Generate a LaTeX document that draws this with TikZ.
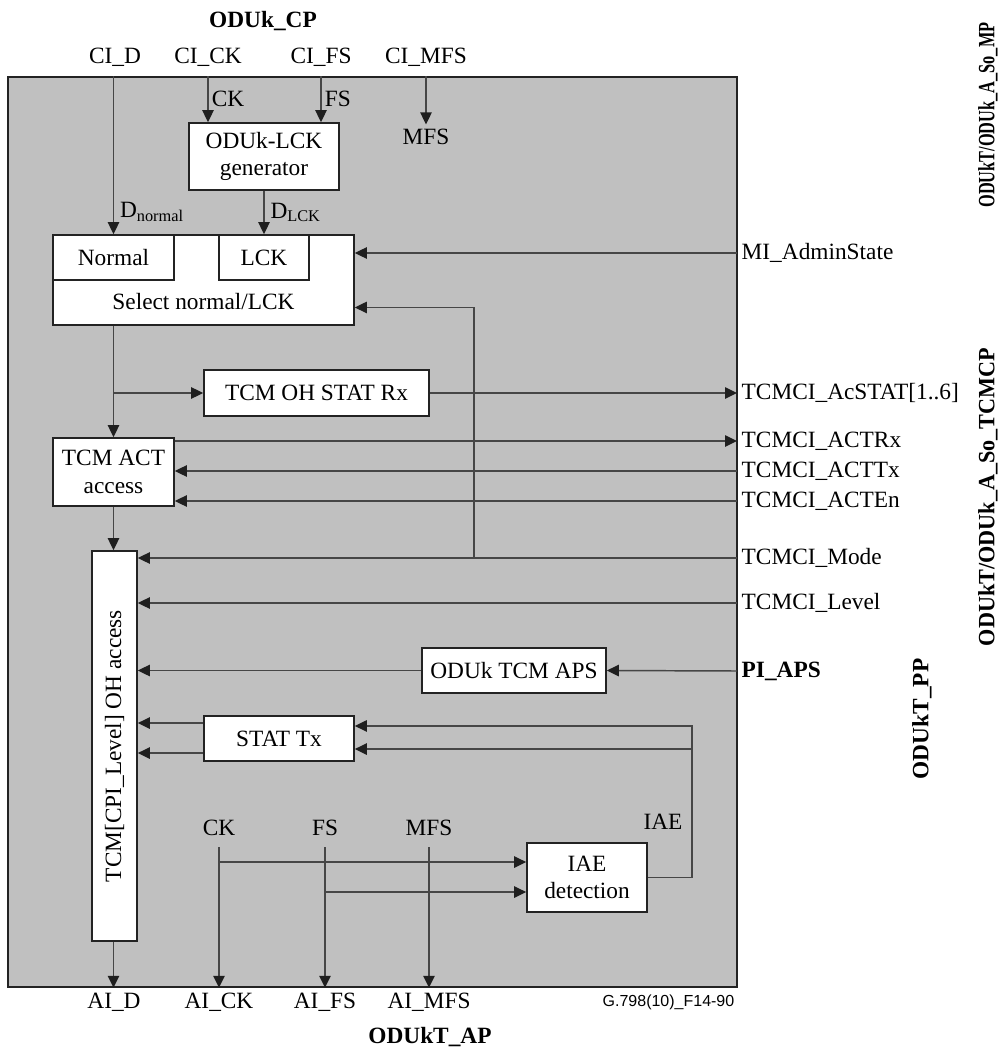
\documentclass[tikz,border=0pt]{standalone}
\usepackage{fontspec}
\setmainfont{Liberation Serif}
\newfontfamily\codefont{Liberation Sans}
\usetikzlibrary{arrows.meta, calc}

\definecolor{framegray}{RGB}{192,192,192}
\definecolor{wiregray}{RGB}{70,70,70}
\definecolor{boxline}{RGB}{35,35,35}
\newcommand{\lblfont}{\fontsize{17.5}{20.5}\selectfont}

\begin{document}
\begin{tikzpicture}[
    x=0.75pt,
    y=-0.75pt,
    >={Triangle[length=9pt,width=8.5pt,color=black!88]},
    font=\lblfont,
    wire/.style={wiregray, line width=1.1pt},
    flow/.style={wire, ->},
    block/.style={draw=boxline, line width=1.2pt, fill=white, inner sep=0pt, align=center},
    port/.style={anchor=west},
    iface/.style={font=\lblfont\bfseries},
    tag/.style={text=black}
]
    \useasboundingbox (0,0) rectangle (1001,1048);
    % function frame
    \node[draw=boxline, fill=framegray, line width=1.2pt, inner sep=0pt,
          minimum width=546.75pt, minimum height=682.5pt] (frame) at (372.5,532) {};

    % access points and top signals
    \node[iface] (cp) at (263,21) {ODUk\_CP};
    \node[iface] (ap) at (430,1037) {ODUkT\_AP};
    \node (cid) at (115,57) {CI\_D};
    \node (cick) at (208,57) {CI\_CK};
    \node (cifs) at (321,57) {CI\_FS};
    \node (cimfs) at (426,57) {CI\_MFS};

    % blocks
    \node[block, minimum width=112.5pt, minimum height=50.25pt] (gen) at (264,156.5) {ODUk-LCK\\generator};
    \node (mfs) at (426,137) {MFS};
    \node[block, minimum width=225.75pt, minimum height=67.5pt] (select) at (203.5,280) {};
    \node[block, minimum width=90.75pt, minimum height=33.75pt] (normal) at (113.5,257.5) {Normal};
    \node[block, minimum width=67.5pt, minimum height=33.75pt] (lck) at (264,257.5) {LCK};
    \node (seltext) at (203.5,302) {Select normal/LCK};
    \node[block, minimum width=168.75pt, minimum height=34.5pt] (statrx) at (316.5,393) {TCM OH STAT Rx};
    \node[block, minimum width=90.75pt, minimum height=51pt] (act) at (113.5,472) {TCM ACT\\access};
    \node[block, minimum width=33.75pt, minimum height=292.5pt] (oh) at (114.5,746)
        {\rotatebox{90}{TCM[CPI\_Level] OH access}};
    \node[block, minimum width=138pt, minimum height=33.75pt] (aps) at (514,670.5) {ODUk TCM APS};
    \node[block, minimum width=112.5pt, minimum height=33.75pt] (stattx) at (279,738.5) {STAT Tx};
    \node[block, minimum width=90pt, minimum height=51.75pt] (iae) at (587,877.5) {IAE\\detection};

    % management and TCM ports
    \node[port] (mi) at (737,253) {MI\_AdminState};
    \node[port] (acstat) at (737,393) {TCMCI\_AcSTAT[1..6]};
    \node[port] (actrx) at (737,441) {TCMCI\_ACTRx};
    \node[port] (acttx) at (737,471) {TCMCI\_ACTTx};
    \node[port] (acten) at (737,501) {TCMCI\_ACTEn};
    \node[port] (mode) at (737,558) {TCMCI\_Mode};
    \node[port] (level) at (737,603) {TCMCI\_Level};
    \node[port, iface] (piaps) at (737,671) {PI\_APS};
    \node[iface, rotate=90] (mp) at (988,115) {\scalebox{0.7}[1]{ODUkT/ODUk\_A\_So\_MP}};
    \node[iface, rotate=90] (tcmcp) at (988,497) {\scalebox{0.95}[1]{ODUkT/ODUk\_A\_So\_TCMCP}};
    \node[iface, rotate=90] (pp) at (922,719) {ODUkT\_PP};

    % bottom signals
    \node (ckb) at (219,828) {CK};
    \node (fsb) at (325,828) {FS};
    \node (mfsb) at (429,828) {MFS};
    \node (iaelbl) at (663,822) {IAE};
    \node (aid) at (114,1002) {AI\_D};
    \node (aick) at (219,1002) {AI\_CK};
    \node (aifs) at (325,1002) {AI\_FS};
    \node (aimfs) at (429,1002) {AI\_MFS};
    \node[anchor=east, font=\codefont\fontsize{12}{14}\selectfont] (code) at (739,1002) {G.798(10)\_F14-90};

    % data path
    \draw[flow] (normal.north |- frame.north) -- (normal.north)
        node[tag, pos=0.86, right=1pt] {D\textsubscript{normal}};
    \draw[flow] (cick |- frame.north) -- (cick |- gen.north)
        node[tag, midway, right=-1pt] {CK};
    \draw[flow] (cifs |- frame.north) -- (cifs |- gen.north)
        node[tag, midway, right=-1pt] {FS};
    \draw[flow] (cimfs |- frame.north) -- (mfs.north);
    \draw[flow] (gen.south) -- (lck.north)
        node[tag, midway, right=1pt] {D\textsubscript{LCK}};
    \draw[flow] (select.south -| act.north) -- (act.north);
    \draw[flow] (act.north |- statrx.west) -- (statrx.west);
    \draw[flow] (act.south) -- (act.south |- oh.north);
    \draw[flow] (oh.south -| act.south) -- (act.south |- frame.south);

    % management and TCM connections
    \draw[flow] (mi.west) -- (select.east |- mi.west);
    \draw[flow] (statrx.east) -- (acstat.west);
    \draw[flow] (act.east |- actrx.west) -- (actrx.west);
    \draw[flow] (acttx.west) -- (act.east |- acttx.west);
    \draw[flow] (acten.west) -- (act.east |- acten.west);
    \draw[flow] (mode.west) -- (oh.east |- mode.west);
    \coordinate (modetap) at (474,0 |- mode.west);
    \draw[flow] (modetap) |- ($(select.south east)!0.2!(select.north east)$);
    \draw[flow] (level.west) -- (oh.east |- level.west);
    \draw[flow] (piaps.west) -- (aps.east);
    \draw[flow] (aps.west) -- (oh.east |- aps.west);

    % STAT Tx and IAE
    \coordinate (txout1) at ([yshift=11.6pt]stattx.west);
    \coordinate (txout2) at ([yshift=-10.9pt]stattx.west);
    \coordinate (txin1) at ([yshift=9.4pt]stattx.east);
    \coordinate (txin2) at ([yshift=-7.9pt]stattx.east);
    \draw[flow] (txout1) -- (oh.east |- txout1);
    \draw[flow] (txout2) -- (oh.east |- txout2);
    \coordinate (iaeturn) at (692,0 |- iae.east);
    \draw[flow] (iae.east) -- (iaeturn) |- (txin1);
    \draw[flow] (iaeturn |- txin2) -- (txin2);
    \coordinate (iaein1) at ([yshift=11.6pt]iae.west);
    \coordinate (iaein2) at ([yshift=-10.9pt]iae.west);
    \draw[flow] ([yshift=-5pt]ckb.south) -- (aick |- frame.south);
    \draw[flow] ([yshift=-5pt]fsb.south) -- (aifs |- frame.south);
    \draw[flow] ([yshift=-5pt]mfsb.south) -- (aimfs |- frame.south);
    \draw[flow] (ckb |- iaein1) -- (iaein1);
    \draw[flow] (fsb |- iaein2) -- (iaein2);
\end{tikzpicture}
\end{document}
